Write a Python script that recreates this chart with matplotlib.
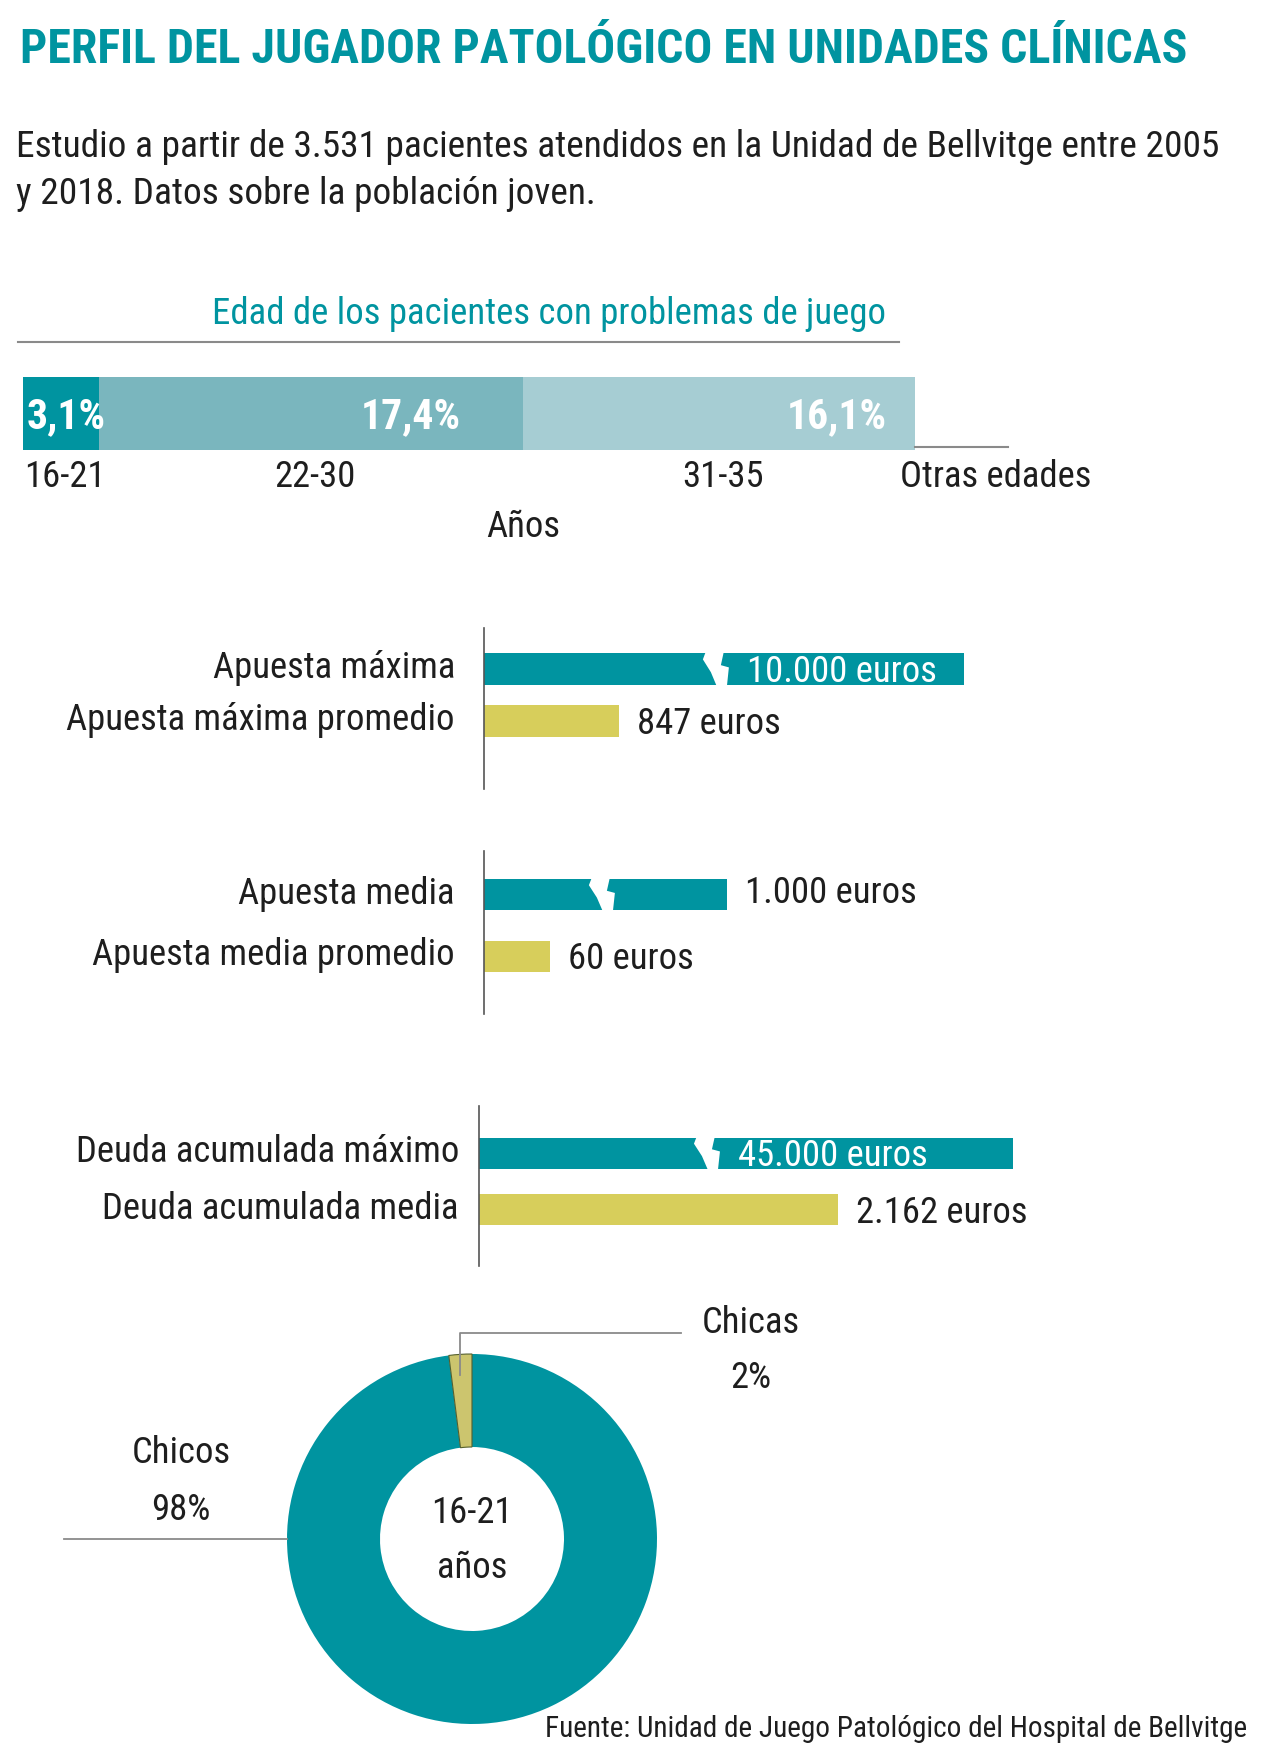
import os
import numpy as np
import matplotlib
matplotlib.use("Agg")
import matplotlib.pyplot as plt
from matplotlib import font_manager
from matplotlib.font_manager import FontProperties
from matplotlib.textpath import TextPath
from matplotlib.lines import Line2D
from matplotlib.patches import Polygon
import matplotlib.transforms as mtransforms

# ---------------- data ----------------
title = "PERFIL DEL JUGADOR PATOLÓGICO EN UNIDADES CLÍNICAS"
subtitle_lines = ["Estudio a partir de 3.531 pacientes atendidos en la Unidad de Bellvitge entre 2005",
                  "y 2018. Datos sobre la población joven."]
age_title = "Edad de los pacientes con problemas de juego"
age_groups = ["16-21", "22-30", "31-35"]
age_pct = [3.1, 17.4, 16.1]
age_other_label = "Otras edades"
age_axis_label = "Años"

bet_max_labels = ["Apuesta máxima", "Apuesta máxima promedio"]
bet_max_values = [10000, 847]
bet_mean_labels = ["Apuesta media", "Apuesta media promedio"]
bet_mean_values = [1000, 60]
debt_labels = ["Deuda acumulada máximo", "Deuda acumulada media"]
debt_values = [45000, 2162]

gender_labels = ["Chicas", "Chicos"]
gender_pct = [2, 98]
donut_center_lines = ["16-21", "años"]
source = "Fuente: Unidad de Juego Patológico del Hospital de Bellvitge"

# ---------------- style ----------------
TEAL = "#0094A0"
YELLOW = "#D7CE5B"
DONUT_YELLOW = "#CCC56E"
AGE_COLORS = ["#0094A0", "#7AB6BE", "#A6CDD3"]
GREY = "#8A8A8A"
TEXT = "#1E1E1E"

# ---- condensed sans font (Roboto Condensed if present), else Liberation Sans ----
entries = font_manager.fontManager.ttflist
cond = []
for f in entries:
    b = os.path.basename(f.fname)
    st = str(f.stretch)
    if ("ondensed" in b or "arrow" in b or st not in ("normal", "500", "medium")):
        cond.append(f)


def pick(cands, bold):
    good = []
    for f in cands:
        b = os.path.basename(f.fname).lower()
        if "italic" in b or "oblique" in b or "mono" in b or "serif" in b.replace("sans", ""):
            continue
        w = f.weight if isinstance(f.weight, int) else {"normal": 400, "regular": 400, "bold": 700}.get(str(f.weight), 400)
        if bold and 700 <= w < 800:
            good.append(f)
        if not bold and w == 400:
            good.append(f)
    pref = ["robotocondensed", "liberationsansnarrow", "archivonarrow", "notosans", "opensans"]
    good.sort(key=lambda f: min([i for i, p in enumerate(pref)
                                 if p in os.path.basename(f.fname).lower().replace("-", "").replace("_", "")] + [99]))
    return good[0].fname if good else None


reg_f = pick(cond, False)
bold_f = pick(cond, True)
REG = FontProperties(fname=reg_f) if reg_f else FontProperties(family="Liberation Sans")
BOLD = FontProperties(fname=bold_f) if bold_f else FontProperties(family="Liberation Sans", weight="bold")

W, H = 1280, 1752
PT = 0.72  # points per pixel at dpi 100
fig = plt.figure(figsize=(W / 100, H / 100), dpi=100)
fig.patch.set_facecolor("white")


def ink(s, fp):
    return TextPath((0, 0), s, size=100, prop=fp).get_extents()


def fit_size(s, fp, target_px):
    return target_px * PT * 100 / ink(s, fp).width


def cap_px(fp, size):
    return ink("H", fp).height * size / 100 / PT


def fx(x):
    return x / W


def fy(y):
    return 1 - y / H


def axes_px(left, top, right, bottom):
    return fig.add_axes([left / W, 1 - bottom / H, (right - left) / W, (bottom - top) / H])


def fig_line(x0, y0, x1, y1, **kw):
    fig.add_artist(Line2D([fx(x0), fx(x1)], [fy(y0), fy(y1)], transform=fig.transFigure, **kw))


def euros(v):
    return f"{v:,}".replace(",", ".") + " euros"


S_TITLE = fit_size(title, BOLD, 1162)
S_SUB = fit_size(subtitle_lines[0], REG, 1199)
S_AGE_T = fit_size(age_title, REG, 670)
S_LAB = fit_size(bet_max_labels[1], REG, 385)
S_PCT = fit_size("17,4%", BOLD, 95)
S_SRC = fit_size(source, REG, 700)
CAP = cap_px(REG, S_LAB)
CAPB = cap_px(BOLD, S_PCT)

# ---------------- header ----------------
fig.text(fx(20), fy(63), title, ha="left", va="baseline", color=TEAL,
         fontproperties=BOLD, size=S_TITLE)
for i, line in enumerate(subtitle_lines):
    fig.text(fx(16), fy(157 + 47 * i), line, ha="left", va="baseline",
             color=TEXT, fontproperties=REG, size=S_SUB)

# ---------------- age stacked bar ----------------
fig.text(fx(549), fy(324), age_title, ha="center", va="baseline", color=TEAL,
         fontproperties=REG, size=S_AGE_T)
fig_line(18, 342, 899, 342, color=GREY, lw=1.5)

ax_age = axes_px(23, 377, 1008, 450)
total = sum(age_pct)
xmax = total * (1008 - 23) / (915 - 23)
lefts = np.concatenate([[0], np.cumsum(age_pct)[:-1]])
ax_age.barh(0, age_pct, left=lefts, height=1.0, color=AGE_COLORS, linewidth=0)
ax_age.set_xlim(0, xmax)
ax_age.set_ylim(-0.5, 0.5)
for s in ax_age.spines.values():
    s.set_visible(False)
ax_age.set_yticks([])
ax_age.set_xticks(lefts + np.array(age_pct) / 2, age_groups)
ax_age.tick_params(axis="x", length=0, pad=0)
for lbl in ax_age.get_xticklabels():
    lbl.set_fontproperties(REG)
    lbl.set_size(S_LAB)
    lbl.set_color(TEXT)
    lbl.set_va("baseline")
    lbl.set_transform(lbl.get_transform() +
                      mtransforms.ScaledTranslation(4 / 100, -37 / 100, fig.dpi_scale_trans))
pct_pads = [-7, 62, 28]
for l, w, p in zip(lefts, age_pct, pct_pads):
    ax_age.annotate(f"{w:.1f}%".replace(".", ","), xy=(l + w, 0), xytext=(-p * PT, -CAPB / 2 * PT),
                    textcoords="offset points", ha="right", va="baseline",
                    color="white", fontproperties=BOLD, size=S_PCT)
ax_age.plot([total, xmax], [-0.46, -0.46], color=GREY, lw=1.5, clip_on=False)
fig.text(fx(900), fy(487), age_other_label, ha="left", va="baseline", color=TEXT,
         fontproperties=REG, size=S_LAB)
fig.text(fx(523), fy(537), age_axis_label, ha="center", va="baseline", color=TEXT,
         fontproperties=REG, size=S_LAB)


# ---------------- broken bar sections ----------------
def make_scale(B, c):
    def fwd(x):
        x = np.asarray(x, float)
        return np.where(x <= B, x, B + (x - B) * c)

    def inv(y):
        y = np.asarray(y, float)
        return np.where(y <= B, y, B + (y - B) / c)

    return fwd, inv


breaks = []


def bar_section(labels, values, box, centers, bar_h, B, c, brk, tick_pad, inside):
    left, top, right, bottom = box
    ax = axes_px(left, top, right, bottom)
    sp = centers[1] - centers[0]
    ax.set_xscale("function", functions=make_scale(B, c))
    hd = bar_h / sp
    ax.barh([0, 1], values, height=hd, color=[TEAL, YELLOW], linewidth=0)
    ax.set_xlim(0, max(values))
    ax.set_ylim((bottom - centers[0]) / sp, -(centers[0] - top) / sp)
    for k, s in ax.spines.items():
        s.set_visible(k == "left")
    ax.spines["left"].set_color("#555555")
    ax.spines["left"].set_linewidth(1.2)
    ax.set_xticks([])
    ax.xaxis.set_minor_locator(matplotlib.ticker.NullLocator())
    ax.set_yticks([0, 1], labels)
    ax.tick_params(axis="y", length=0, pad=tick_pad * PT)
    for lbl in ax.get_yticklabels():
        lbl.set_fontproperties(REG)
        lbl.set_size(S_LAB)
        lbl.set_color(TEXT)
        lbl.set_va("baseline")
        lbl.set_transform(lbl.get_transform() +
                          mtransforms.ScaledTranslation(0, -(CAP / 2 - 4) / 100, fig.dpi_scale_trans))
    trans = mtransforms.blended_transform_factory(ax.transAxes, ax.transData)
    dy = -(CAP / 2) * PT
    if inside:
        ax.annotate(euros(values[0]), xy=(brk, 0), xycoords=trans,
                    xytext=(32 * PT, dy), textcoords="offset points",
                    ha="left", va="baseline", color="white", fontproperties=REG, size=S_LAB)
    else:
        ax.annotate(euros(values[0]), xy=(values[0], 0), xytext=(18 * PT, dy + 5 * PT),
                    textcoords="offset points", ha="left", va="baseline",
                    color=TEXT, fontproperties=REG, size=S_LAB)
    ax.annotate(euros(values[1]), xy=(values[1], 1), xytext=(18 * PT, dy),
                textcoords="offset points", ha="left", va="baseline",
                color=TEXT, fontproperties=REG, size=S_LAB)
    breaks.append((trans, brk, hd))
    return ax


bar_section(bet_max_labels, bet_max_values, (484, 628, 964, 789), (669, 720.5), 32,
            1452, 0.1825, 0.481, 29, True)
bar_section(bet_mean_labels, bet_mean_values, (484, 851, 727, 1014), (894.5, 956), 31,
            106.4, 0.128, 0.481, 29, False)
bar_section(debt_labels, debt_values, (479, 1106, 1013, 1266), (1153, 1209.5), 31,
            2500, 0.01685, 0.425, 20, True)

# zig-zag white break marks on the long bars
zig = [(-9, -0.05), (-12, 0.2), (-4, 0.6), (2, 1.05), (12, 1.05), (14, 0.45), (6, 0.38), (9, -0.05)]
inv_fig = fig.transFigure.inverted()
for trans, brk, hd in breaks:
    p_top = trans.transform((brk, -hd / 2))
    p_bot = trans.transform((brk, hd / 2))
    verts = [(p_top[0] + dx, p_top[1] + t * (p_bot[1] - p_top[1])) for dx, t in zig]
    verts = inv_fig.transform(verts)
    fig.add_artist(Polygon(verts, closed=True, transform=fig.transFigure,
                           facecolor="white", edgecolor="none", zorder=5))

# ---------------- donut ----------------
ax_d = axes_px(272, 1339, 672, 1739)
R = 0.925
WID = 0.465
wedges, _ = ax_d.pie(gender_pct, colors=[DONUT_YELLOW, TEAL], startangle=90,
                     counterclock=True, radius=R,
                     wedgeprops=dict(width=WID, linewidth=0))
wedges[0].set_edgecolor("#55602E")
wedges[0].set_linewidth(0.8)
wedges[0].set_zorder(3)
ax_d.set_xlim(-1, 1)
ax_d.set_ylim(-1, 1)
ax_d.set_aspect("equal")
ax_d.set_axis_off()

mid = np.deg2rad((wedges[0].theta1 + wedges[0].theta2) / 2)
xl = R * np.cos(mid)
ax_d.plot([xl, xl, 1.045], [0.82, 1.03, 1.03], color=GREY, lw=1.3,
          clip_on=False, zorder=5)
ax_d.plot([-R, -2.04], [0, 0], color=GREY, lw=1.3, clip_on=False)

kw = dict(ha="center", va="baseline", color=TEXT, fontproperties=REG, size=S_LAB)
ax_d.text(1.395, 1.03, gender_labels[0], **kw)
ax_d.text(1.395, 0.755, f"{gender_pct[0]}%", **kw)
ax_d.text(-1.455, 0.38, gender_labels[1], **kw)
ax_d.text(-1.455, 0.095, f"{gender_pct[1]}%", **kw)
ax_d.text(0, 0.08, donut_center_lines[0], **kw)
ax_d.text(0, -0.195, donut_center_lines[1], **kw)

fig.text(fx(1247), fy(1737), source, ha="right", va="baseline", color=TEXT,
         fontproperties=REG, size=S_SRC)

fig.savefig("out.png", dpi=100, facecolor="white")
